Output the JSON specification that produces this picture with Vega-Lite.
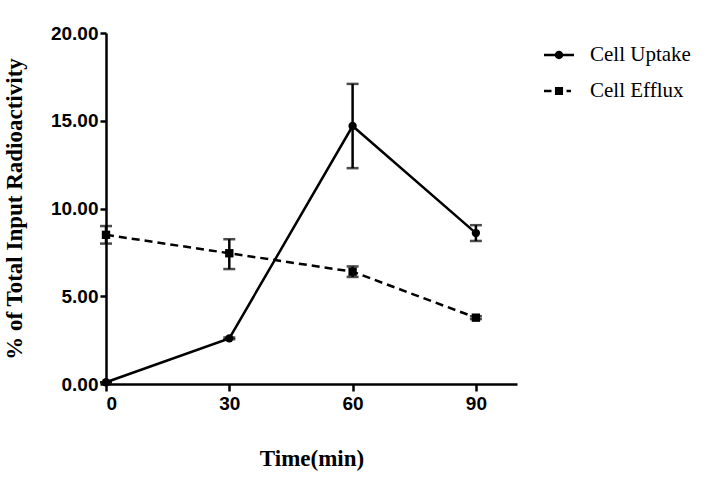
{
  "$schema": "https://vega.github.io/schema/vega-lite/v6.json",
  "width": 411,
  "height": 351,
  "autosize": "none",
  "padding": {"left": 106, "top": 33, "right": 190, "bottom": 99},
  "background": "white",
  "config": {
    "view": {"stroke": null},
    "axis": {
      "grid": false,
      "domainColor": "black",
      "domainWidth": 2.5,
      "tickColor": "black",
      "tickWidth": 2.5,
      "labelColor": "black",
      "labelFont": "Liberation Sans",
      "labelFontWeight": "bold",
      "labelFontSize": 19,
      "titleColor": "black",
      "titleFont": "Liberation Serif",
      "titleFontWeight": "bold",
      "titleFontSize": 23
    },
    "legend": {
      "title": null,
      "orient": "none",
      "legendX": 437,
      "legendY": 6,
      "symbolSize": 900,
      "labelOffset": 15,
      "rowPadding": 10,
      "labelFont": "Liberation Serif",
      "labelFontSize": 21,
      "labelColor": "black",
      "symbolFillColor": "black",
      "symbolOpacity": 1
    }
  },
  "data": {
    "values": [
      {"series": "Cell Uptake", "time": 0, "mean": 0.1, "lo": 0.1, "hi": 0.1},
      {"series": "Cell Uptake", "time": 30, "mean": 2.6, "lo": 2.55, "hi": 2.65},
      {"series": "Cell Uptake", "time": 60, "mean": 14.7, "lo": 12.3, "hi": 17.1},
      {"series": "Cell Uptake", "time": 90, "mean": 8.6, "lo": 8.15, "hi": 9.05},
      {"series": "Cell Efflux", "time": 0, "mean": 8.5, "lo": 8.0, "hi": 9.0},
      {"series": "Cell Efflux", "time": 30, "mean": 7.45, "lo": 6.55, "hi": 8.25},
      {"series": "Cell Efflux", "time": 60, "mean": 6.4, "lo": 6.1, "hi": 6.7},
      {"series": "Cell Efflux", "time": 90, "mean": 3.78, "lo": 3.7, "hi": 3.86}
    ]
  },
  "encoding": {
    "x": {
      "field": "time",
      "type": "quantitative",
      "scale": {"domain": [0, 100], "nice": false, "zero": false},
      "axis": {
        "values": [0, 30, 60, 90],
        "tickSize": 7,
        "labelPadding": 3,
        "title": "Time(min)",
        "titleY": 74,
        "titleBaseline": "middle"
      }
    }
  },
  "layer": [
    {
      "mark": {"type": "errorbar", "ticks": {"size": 12, "thickness": 2.5, "color": "black"}, "rule": {"strokeWidth": 2.5, "color": "black"}},
      "encoding": {
        "y": {
          "field": "lo",
          "type": "quantitative",
          "scale": {"domain": [0, 20], "nice": false},
          "axis": {
            "values": [0, 5, 10, 15, 20],
            "format": ".2f",
            "tickSize": 6,
            "labelPadding": 2,
            "title": "% of Total Input Radioactivity",
            "titleX": -80
          }
        },
        "y2": {"field": "hi"}
      }
    },
    {
      "transform": [{"filter": "datum.series === 'Cell Uptake'"}],
      "mark": {"type": "line", "color": "black", "strokeWidth": 2.5},
      "encoding": {
        "y": {"field": "mean", "type": "quantitative"}
      }
    },
    {
      "transform": [{"filter": "datum.series === 'Cell Efflux'"}],
      "mark": {"type": "line", "color": "black", "strokeWidth": 2.5, "strokeDash": [8, 5]},
      "encoding": {
        "y": {"field": "mean", "type": "quantitative"}
      }
    },
    {
      "transform": [{"filter": "datum.series === 'Cell Uptake'"}],
      "mark": {"type": "point", "shape": "circle", "filled": true, "color": "black", "opacity": 1, "size": 70},
      "encoding": {
        "y": {"field": "mean", "type": "quantitative"}
      }
    },
    {
      "transform": [{"filter": "datum.series === 'Cell Efflux'"}],
      "mark": {"type": "point", "shape": "square", "filled": true, "color": "black", "opacity": 1, "size": 70},
      "encoding": {
        "y": {"field": "mean", "type": "quantitative"}
      }
    },
    {
      "transform": [{"filter": "datum.time > 1000"}],
      "mark": {"type": "point", "filled": true, "color": "black", "opacity": 1},
      "encoding": {
        "y": {"field": "mean", "type": "quantitative"},
        "shape": {
          "field": "series",
          "type": "nominal",
          "scale": {
            "domain": ["Cell Uptake", "Cell Efflux"],
            "range": [
              "M-1,-0.08H1V0.08H-1ZM0.28,0A0.28,0.28 0 1,1 -0.28,0A0.28,0.28 0 1,1 0.28,0Z",
              "M-1,-0.08H-0.5V0.08H-1ZM-0.27,-0.27H0.27V0.27H-0.27ZM0.5,-0.08H0.8V0.08H0.5Z"
            ]
          },
          "legend": {"symbolSize": 900}
        }
      }
    }
  ]
}
